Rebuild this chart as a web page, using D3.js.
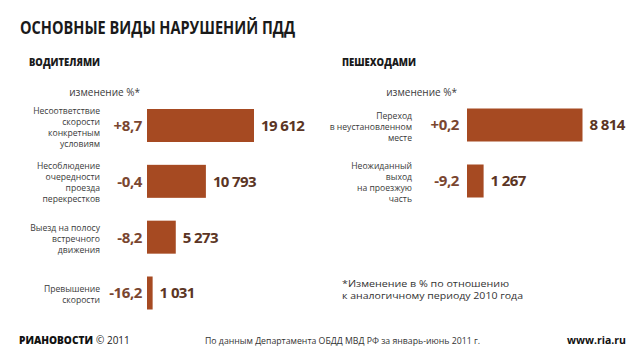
<!DOCTYPE html>
<html><head><meta charset="utf-8">
<script src="https://cdn.jsdelivr.net/npm/d3@7"></script>
<style>body{margin:0;background:#fff}svg{display:block}text{font-family:"Open Sans",sans-serif}</style>
</head><body>
<script>
const driverCategories = [
  ["Несоответствие","скорости","конкретным","условиям"],
  ["Несоблюдение","очередности","проезда","перекрестков"],
  ["Выезд на полосу","встречного","движения"],
  ["Превышение","скорости"]
];
const driverValues = [19612, 10793, 5273, 1031];
const driverChanges = ["+8,7", "-0,4", "-8,2", "-16,2"];
const pedCategories = [
  ["Переход","в неустановленном","месте"],
  ["Неожиданный","выход","на проезжую","часть"]
];
const pedValues = [8814, 1267];
const pedChanges = ["+0,2", "-9,2"];
const footnoteLines = ["*Изменение в % по отношению", "к аналогичному периоду 2010 года"];
const fmt = v => d3.format(",")(v).replace(",", " ");

const W = 640, H = 360;
const svg = d3.select("body").append("svg").attr("width", W).attr("height", H);
const barColor = "#a64a22", numColor = "#5b3524", chgColor = "#7a4630", lblColor = "#3a3a3a";

svg.append("text").attr("x", 20).attr("y", 34).attr("font-size", 17).attr("font-weight", 700)
  .attr("fill", "#1a1a1a").attr("textLength", 275).attr("lengthAdjust", "spacingAndGlyphs")
  .text("ОСНОВНЫЕ ВИДЫ НАРУШЕНИЙ ПДД");

function panel(cfg) {
  const g = svg.append("g");
  g.append("text").attr("x", cfg.headX).attr("y", 66).attr("font-size", 10).attr("font-weight", 800)
    .attr("fill", "#1a1a1a").attr("textLength", cfg.headW).attr("lengthAdjust", "spacingAndGlyphs").text(cfg.head);
  g.append("text").attr("x", cfg.chgX).attr("y", 96).attr("text-anchor", "end").attr("font-size", 10)
    .attr("fill", lblColor).text("изменение %*");
  const x = d3.scaleLinear().domain([0, d3.max(cfg.values)]).range([cfg.x0, cfg.x0 + cfg.maxW]);
  const y = d3.scalePoint().domain(d3.range(cfg.values.length)).range(cfg.yRange);
  const bh = 33;
  g.selectAll("rect").data(cfg.values).join("rect")
    .attr("x", x(0)).attr("y", (d, i) => y(i) - bh / 2).attr("width", d => x(d) - x(0)).attr("height", bh)
    .attr("fill", barColor);
  g.selectAll("text.val").data(cfg.values).join("text").attr("class", "val")
    .attr("x", d => x(d) + 7).attr("y", (d, i) => y(i)).attr("dy", "0.36em")
    .attr("font-size", 15).attr("font-weight", 700).attr("letter-spacing", -0.6).attr("fill", numColor).text(fmt);
  g.selectAll("text.chg").data(cfg.changes).join("text").attr("class", "chg")
    .attr("x", cfg.chgX + 2).attr("y", (d, i) => y(i)).attr("dy", "0.36em").attr("text-anchor", "end")
    .attr("font-size", 15).attr("font-weight", 700).attr("letter-spacing", -0.4).attr("fill", chgColor).text(d => d);
  cfg.cats.forEach((lines, i) => {
    const lh = 11, top = y(i) + 1.5 - (lines.length - 1) * lh / 2;
    lines.forEach((l, j) => g.append("text").attr("text-anchor", "end")
      .attr("font-family", "'DejaVu Sans', sans-serif").attr("font-size", 8.6).attr("fill", lblColor)
      .attr("x", cfg.lblX).attr("y", top + j * lh).attr("dy", "0.35em").text(l));
  });
}

panel({head: "ВОДИТЕЛЯМИ", headX: 29, headW: 71, chgX: 140, x0: 147, maxW: 107,
  values: driverValues, changes: driverChanges, cats: driverCategories, yRange: [125.5, 293], lblX: 100});
panel({head: "ПЕШЕХОДАМИ", headX: 342, headW: 74, chgX: 457, x0: 467, maxW: 115.5,
  values: pedValues, changes: pedChanges, cats: pedCategories, yRange: [125, 181], lblX: 412});

const fnLen = [167, 181];
footnoteLines.forEach((l, j) => svg.append("text").attr("x", 342).attr("y", 284 + j * 11.6).attr("dy", "0.35em")
  .attr("font-family", "'DejaVu Sans', sans-serif").attr("font-size", 9.5).attr("fill", "#333")
  .attr("textLength", fnLen[j]).attr("lengthAdjust", "spacingAndGlyphs").text(l));

svg.append("text").attr("x", 19).attr("y", 344).attr("font-size", 10).attr("font-weight", 800)
  .attr("fill", "#111").attr("textLength", 74).attr("lengthAdjust", "spacingAndGlyphs").text("РИАНОВОСТИ");
svg.append("text").attr("x", 96).attr("y", 344).attr("font-size", 10).attr("fill", "#222").text("© 2011");
svg.append("text").attr("x", 205).attr("y", 344).attr("font-size", 9.5).attr("fill", "#333")
  .attr("textLength", 275).attr("lengthAdjust", "spacingAndGlyphs")
  .text("По данным Департамента ОБДД МВД РФ за январь-июнь 2011 г.");
svg.append("text").attr("x", 626).attr("y", 344).attr("text-anchor", "end").attr("font-size", 10.5)
  .attr("font-weight", 700).attr("fill", "#111").text("www.ria.ru");
</script>
</body></html>
